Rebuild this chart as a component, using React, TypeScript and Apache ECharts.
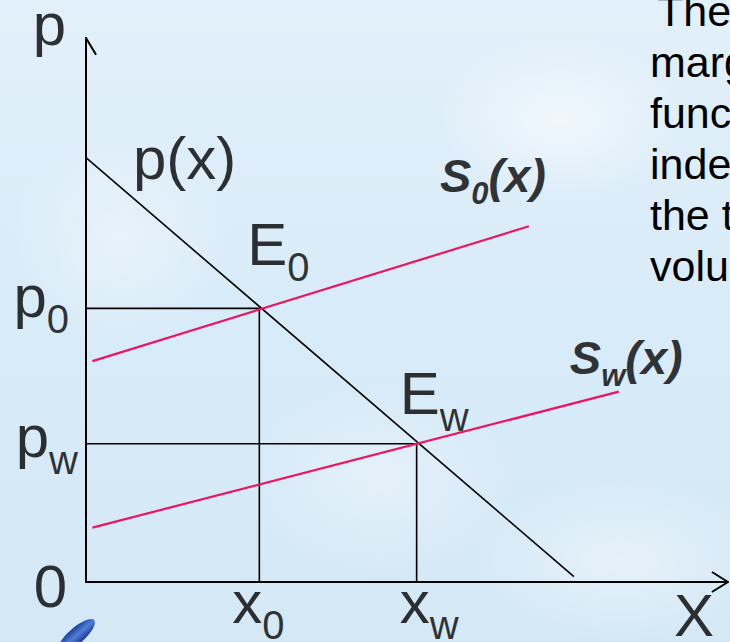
import React, { useEffect, useRef } from "react";
import * as echarts from "echarts";

// Quantity (x) and price (p) scales of the diagram, in arbitrary units
const X_MAX = 100;
const Y_MAX = 100;

// Demand curve p(x)
const demandCurve: number[][] = [
  [0, 78],
  [76, 1],
];
// Supply curves S0(x) and Sw(x)
const supplyS0: number[][] = [
  [1, 40.6],
  [69, 65.4],
];
const supplySw: number[][] = [
  [1, 10],
  [83, 35],
];
// Equilibria E0 = (x0, p0) and Ew = (xw, pw)
const eq0: number[] = [27, 50.3];
const eqW: number[] = [51.5, 25.4];

// Paragraph at the right edge of the slide
const sideText: string[] = [
  "The",
  "marginal",
  "function",
  "independent",
  "the transport",
  "volume",
];

const FONT = "'Liberation Sans', Arial, sans-serif";
const RED = "#ee1560";

const rich = {
  m: { fontFamily: FONT, fontSize: 60, lineHeight: 60, verticalAlign: "top", color: "#000" },
  s: { fontFamily: FONT, fontSize: 40, lineHeight: 40, verticalAlign: "top", padding: [33, 0, 0, 0], color: "#000" },
  bm: { fontFamily: FONT, fontSize: 47, lineHeight: 47, fontWeight: "bold", fontStyle: "italic", verticalAlign: "top", color: "#000" },
  bs: { fontFamily: FONT, fontSize: 31, lineHeight: 31, fontWeight: "bold", fontStyle: "italic", verticalAlign: "top", padding: [26, 0, 0, 0], color: "#000" },
};

function tag(value: number[], text: string, dx: number, dy: number, align: string = "left") {
  return {
    value,
    label: {
      show: true,
      position: [dx, dy],
      align,
      verticalAlign: "top",
      formatter: text,
      rich,
    },
  };
}

export default function App() {
  const ref = useRef<HTMLDivElement>(null);

  useEffect(() => {
    if (!ref.current) return;
    const chart = echarts.init(ref.current, null, { renderer: "svg" });

    const s0End = supplyS0[supplyS0.length - 1];
    const swEnd = supplySw[supplySw.length - 1];

    const labels = [
      tag([0, Y_MAX], "{m|p}", -20, -44, "right"),
      tag(demandCurve[0], "{m|p(x)}", 47, -29),
      tag(s0End, "{bm|S}{bs|0}{bm|(x)}", -89, -74),
      tag(swEnd, "{bm|S}{bs|w}{bm|(x)}", -49, -58),
      tag(eq0, "{m|E}{s|0}", -12, -94),
      tag(eqW, "{m|E}{s|w}", -17, -80),
      tag([0, eq0[1]], "{m|p}{s|0}", -17, -42, "right"),
      tag([0, eqW[1]], "{m|p}{s|w}", -8, -37, "right"),
      tag([0, 0], "{m|0}", -19, -26, "right"),
      tag([eq0[0], 0], "{m|x}{s|0}", -27, -10),
      tag([eqW[0], 0], "{m|x}{s|w}", -17, -10),
      tag([X_MAX, 0], "{m|X}", -54, 3),
    ];

    const blackLine = (data: number[][], width: number) => ({
      type: "line",
      data,
      showSymbol: false,
      symbol: "none",
      clip: false,
      silent: true,
      lineStyle: { color: "#000", width },
      z: 3,
    });
    const redLine = (data: number[][]) => ({
      type: "line",
      data,
      showSymbol: false,
      symbol: "none",
      clip: false,
      silent: true,
      lineStyle: { color: RED, width: 2.2 },
      z: 4,
    });

    chart.setOption({
      animation: false,
      backgroundColor: "transparent",
      grid: { left: 86, right: 2, top: 38, bottom: 60 },
      xAxis: {
        type: "value",
        min: 0,
        max: X_MAX,
        axisLine: { show: true, onZero: false, lineStyle: { color: "#000", width: 2 } },
        axisTick: { show: false },
        axisLabel: { show: false },
        splitLine: { show: false },
      },
      yAxis: {
        type: "value",
        min: 0,
        max: Y_MAX,
        axisLine: { show: true, onZero: false, lineStyle: { color: "#000", width: 2 } },
        axisTick: { show: false },
        axisLabel: { show: false },
        splitLine: { show: false },
      },
      graphic: [
        ...sideText.map((line, i) => ({
          type: "text",
          x: i === 0 ? 657 : 650,
          y: 32 + i * 51,
          silent: true,
          style: {
            text: line,
            font: `43px ${FONT}`,
            fill: "#000",
            verticalAlign: "bottom",
          },
        })),
        {
          type: "ellipse",
          shape: { cx: 76, cy: 636, rx: 8, ry: 24 },
          originX: 76,
          originY: 636,
          rotation: -0.85,
          silent: true,
          style: {
            fill: new echarts.graphic.LinearGradient(0, 0, 1, 0, [
              { offset: 0, color: "#1f3f9c" },
              { offset: 0.5, color: "#4f7fd8" },
              { offset: 1, color: "#1c3890" },
            ]),
          },
        },
      ],
      series: [
        blackLine(demandCurve, 1.6),
        redLine(supplyS0),
        redLine(supplySw),
        blackLine([[0, eq0[1]], eq0, [eq0[0], 0]], 1.6),
        blackLine([[0, eqW[1]], eqW, [eqW[0], 0]], 1.6),
        // axis arrowheads
        blackLine([[-1.56, Y_MAX - 3.1], [0, Y_MAX], [1.56, Y_MAX - 3.1]], 2),
        blackLine([[X_MAX - 2.5, 1.84], [X_MAX, 0], [X_MAX - 2.5, -1.84]], 2),
        {
          type: "scatter",
          data: labels,
          symbolSize: 0,
          clip: false,
          silent: true,
          z: 5,
          label: { fontFamily: FONT, color: "#000" },
        },
      ],
    });

    return () => chart.dispose();
  }, []);

  return (
    <div
      style={{
        position: "fixed",
        left: 0,
        top: 0,
        width: 730,
        height: 642,
        background:
          "radial-gradient(ellipse 180px 120px at 560px 120px, rgba(255,255,255,0.55), rgba(255,255,255,0) 70%)," +
          "radial-gradient(ellipse 200px 140px at 380px 480px, rgba(255,255,255,0.35), rgba(255,255,255,0) 70%)," +
          "radial-gradient(ellipse 160px 160px at 120px 240px, rgba(255,255,255,0.35), rgba(255,255,255,0) 70%)," +
          "radial-gradient(ellipse 220px 120px at 620px 560px, rgba(255,255,255,0.4), rgba(255,255,255,0) 70%)," +
          "linear-gradient(180deg, #e2f0fa 0%, #d8ebf8 50%, #d4e8f6 100%)",
      }}
    >
      <div ref={ref} style={{ width: 730, height: 642 }} />
    </div>
  );
}
